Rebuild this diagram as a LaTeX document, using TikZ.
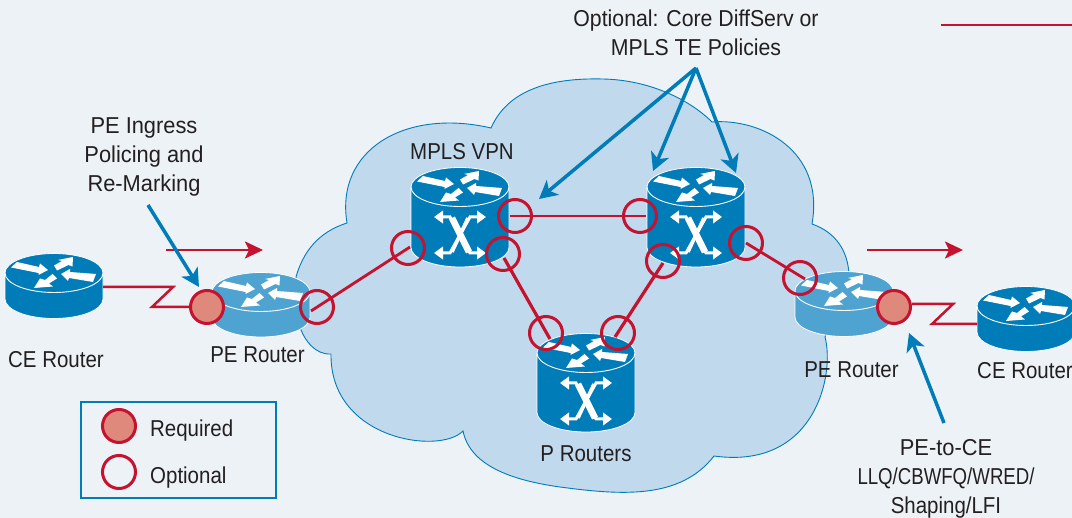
\documentclass[tikz,border=0pt]{standalone}
\usepackage{fontspec}
\setmainfont[FakeStretch=0.89]{Liberation Sans}
\newfontfamily\fwide[FakeStretch=0.95]{Liberation Sans}
\newfontfamily\fmid[FakeStretch=0.925]{Liberation Sans}
\newfontfamily\fnarrow[FakeStretch=0.81]{Liberation Sans}
\usetikzlibrary{arrows.meta}
\definecolor{bgc}{HTML}{ECF2F6}
\definecolor{cloudc}{HTML}{C1D9EC}
\definecolor{bluec}{HTML}{007CB8}
\definecolor{pec}{HTML}{4FA3D1}
\definecolor{redc}{HTML}{C4122F}
\definecolor{reqc}{HTML}{DF897C}
\definecolor{txtc}{HTML}{231F20}
\tikzset{
  lbl/.style={text=txtc,font=\fontsize{23}{29}\selectfont,align=center,inner sep=0pt},
  ringopt/.style={circle,draw=redc,line width=3pt,minimum size=33pt,inner sep=0pt},
  ringreq/.style={ringopt,fill=reqc},
  redline/.style={draw=redc,line width=#1,line join=miter},
  redline/.default=2.5pt,
  flow/.style={draw=redc,line width=2.5pt,-{Stealth[length=18pt,width=17pt,inset=4pt]}},
  callout/.style={draw=bluec,line width=3.5pt,-{Stealth[length=18pt,width=19pt,inset=5pt]}},
  pics/router/.style n args={2}{code={
    \coordinate (-c) at (0,0);
    \path[fill=#1,draw=white,line width=.8pt] (-49,0) -- (-49,#2)
      .. controls (-49,#2+10.8) and (-27,#2+19.5) .. (0,#2+19.5)
      .. controls (27,#2+19.5) and (49,#2+10.8) .. (49,#2) -- (49,0)
      .. controls (49,-10.8) and (27,-19.5) .. (0,-19.5)
      .. controls (-27,-19.5) and (-49,-10.8) .. (-49,0) -- cycle;
    \draw[white,line width=.9pt] (-49,0) .. controls (-49,10.8) and (-27,19.5) .. (0,19.5)
      .. controls (27,19.5) and (49,10.8) .. (49,0);
    \fill[white] (-37,-11) -- (-15,-6) -- (-14,-9.5) -- (-6,-3) -- (-15.5,2) -- (-15.5,0) -- (-43,-5.5) -- cycle;
    \fill[white] (42,1) -- (39,9) -- (15,5) -- (14,8) -- (7,1) -- (16,-4) -- (16,-1) -- cycle;
    \fill[white] (0,-7.5) -- (8,-12) -- (4,-13) -- (19,-16) -- (18.5,-6.5) -- (14.5,-8) -- (3,-2.5) -- cycle;
    \fill[white] (-1.5,1) -- (-9,7) -- (-14,5.5) -- (-20,15) -- (-1,13.5) -- (-5,10.5) -- (3,5.5) -- cycle;
  }},
  pics/xmark/.style={code={
    \draw[white,line width=3pt,{Triangle[length=9pt,width=12.5pt]}-{Triangle[length=9pt,width=12.5pt]}]
      (-26,30) -- (-10,30) -- (10,66) -- (26,66);
    \draw[white,line width=3pt,{Triangle[length=9pt,width=12.5pt]}-{Triangle[length=9pt,width=12.5pt]}]
      (-26,66) -- (-10,66) -- (10,30) -- (26,30);
    \draw[white,line width=6.5pt] (-8,31) -- (9,65);
    \draw[white,line width=3.5pt] (8,31) -- (-8,65);
  }},
}
\begin{document}
\begin{tikzpicture}[x=1pt,y=-1pt]
\useasboundingbox (0,0) rectangle (1072,518);
\clip (0,0) rectangle (1072,518);
\fill[bgc] (0,0) rectangle (1072,518);
% cloud
\path[fill=cloudc,draw=bluec,line width=.9pt,line join=miter]
  (347,223) .. controls (335,150) and (405,108) .. (491,128)
  .. controls (510,85) and (560,78) .. (603,79)
  .. controls (650,80) and (690,100) .. (712,122)
  .. controls (760,118) and (825,150) .. (812,224)
  .. controls (835,232) and (848,250) .. (849,275)
  -- (825,337)
  .. controls (835,375) and (815,470) .. (714,456)
  .. controls (680,500) and (620,495) .. (560,487)
  .. controls (510,480) and (470,465) .. (463,431)
  .. controls (440,455) and (330,440) .. (331,354)
  .. controls (315,355) and (305,340) .. (301,330)
  -- (296,277)
  .. controls (305,245) and (325,230) .. (347,223) -- cycle;
% routers
\pic (ceL) at (54,273) {router={bluec}{26}};
\pic (peL) at (261,292) {router={pec}{25.5}};
\pic (peR) at (844,291) {router={pec}{26}};
\pic (ceR) at (1026,306) {router={bluec}{26}};
\pic (mA) at (460,187) {router={bluec}{60.5}};
\pic at (460,187) {xmark};
\pic (mB) at (696,187) {router={bluec}{60.5}};
\pic at (696,187) {xmark};
\pic (mP) at (586,353) {router={bluec}{59.5}};
\pic at (586,353) {xmark};
% connector ends
\coordinate (a1) at (311,311); \coordinate (a2) at (410,247);
\coordinate (b1) at (510,216); \coordinate (b2) at (646,216);
\coordinate (c1) at (504,258); \coordinate (c2) at (550,339);
\coordinate (d1) at (615,337); \coordinate (d2) at (663,263);
\coordinate (e1) at (746,243); \coordinate (e2) at (805,279);
\coordinate (z1) at (173,287); \coordinate (z2) at (152,307);
\coordinate (z3) at (953,304); \coordinate (z4) at (932,324);
\coordinate (ceLp) at (103,287); \coordinate (ceRp) at (977,324);
% red links
\draw[redline=2.8pt] (a1) -- (a2);
\draw[redline=2.2pt] (b1) -- (b2);
\draw[redline=3.2pt] (c1) -- (c2);
\draw[redline=3.2pt] (d1) -- (d2);
\draw[redline=2.8pt] (e1) -- (e2);
% rings
\node[ringreq] (rq1) at (207,307) {};
\node[ringopt] (o1) at (317,307) {};
\node[ringopt] (o2) at (408,248) {};
\node[ringopt] (o3) at (515,216) {};
\node[ringopt] (o4) at (503,254) {};
\node[ringopt] (o5) at (640,216) {};
\node[ringopt] (o6) at (663,261) {};
\node[ringopt] (o7) at (746,243) {};
\node[ringopt] (o8) at (546,333) {};
\node[ringopt] (o9) at (618,333) {};
\node[ringopt] (o10) at (800,278) {};
\node[ringreq] (rq2) at (894,307) {};
% zigzags
\draw[redline=2.5pt] (ceLp) -- (z1) -- (z2) -- (rq1.west);
\draw[redline=2.5pt] (rq2.east) ++(0,-3) coordinate (rq2p) (rq2p) -- (z3) -- (z4) -- (ceRp);
% flow arrows
\coordinate (f1) at (166,250); \coordinate (f2) at (263,250);
\coordinate (f3) at (867,250); \coordinate (f4) at (963,250);
\coordinate (f5) at (941,25); \coordinate (f6) at (1072,25);
\draw[flow] (f1) -- (f2);
\draw[flow] (f3) -- (f4);
\draw[redline=2.5pt] (f5) -- (f6);
% callouts
\coordinate (k0) at (696,68);
\coordinate (k1) at (653,171);
\coordinate (k2) at (736,173);
\coordinate (k3) at (539,199);
\coordinate (i0) at (148,205); \coordinate (i1) at (199,287);
\coordinate (t0) at (944,423); \coordinate (t1) at (909,333);
\draw[callout] (k0) -- (k1);
\draw[callout] (k0) -- (k2);
\draw[callout] (k0) -- (k3);
\draw[callout] (i0) -- (i1);
\draw[callout] (t0) -- (t1);
% labels
\node[lbl] (l1) at (56,359.5) {CE Router};
\node[lbl] (l2) at (257.5,354.5) {PE Router};
\node[lbl] (l3) at (851.5,369.5) {PE Router};
\node[lbl] (l4) at (1025,370.5) {CE Router};
\node[lbl] (l5) at (462,151.5) {MPLS VPN};
\node[lbl] (l6) at (586,453.5) {P Routers};
\node[lbl,font=\fontsize{23}{29}\selectfont\fwide] (l7) at (144,157) {PE Ingress\\Policing and\\Re-Marking};
\node[lbl,font=\fontsize{23}{29}\selectfont\fmid] (l8) at (696,33) {Optional: Core DiffServ or\\MPLS TE Policies};
\node[lbl] (l9) at (946,479) {{\fwide PE-to-CE}\\{\fnarrow LLQ/CBWFQ/WRED/}\\Shaping/LFI};
% legend
\node[draw=bluec,line width=1.2pt,minimum width=195pt,minimum height=96pt,inner sep=0pt] (leg) at (178.5,450) {};
\node[ringreq] (lr) at (119,426) {};
\node[ringopt] (lo) at (119,472) {};
\node[lbl,anchor=west] (lrt) at (150,431) {Required};
\node[lbl,anchor=west] (lot) at (150,478) {Optional};
\end{tikzpicture}
\end{document}
